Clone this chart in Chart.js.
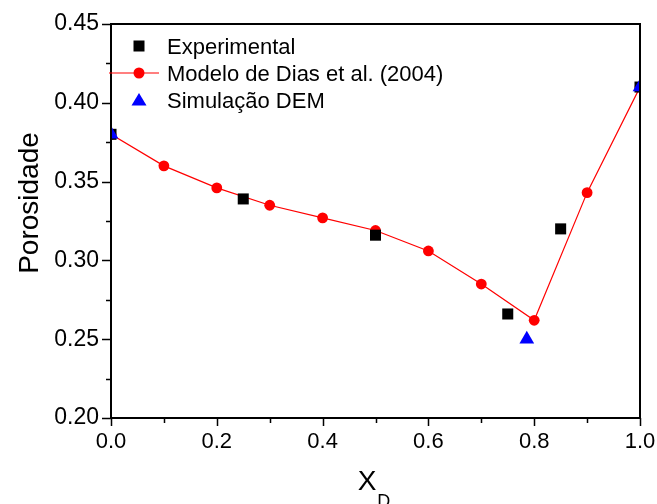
<!DOCTYPE html>
<html>
<head>
<meta charset="utf-8">
<script src="https://cdn.jsdelivr.net/npm/chart.js@4"></script>
<style>
html,body{margin:0;padding:0;background:#fff;}
canvas{display:block;}
</style>
</head>
<body>
<canvas id="c" width="657" height="504"></canvas>
<script>
// ---- data ----
const expX = [0.0, 0.25, 0.5, 0.75, 0.85, 1.0];
const expY = [0.380, 0.339, 0.316, 0.266, 0.320, 0.410];

const modelX = [0.0, 0.1, 0.2, 0.3, 0.4, 0.5, 0.6, 0.7, 0.8, 0.9, 1.0];
const modelY = [0.380, 0.360, 0.346, 0.335, 0.327, 0.319, 0.306, 0.285, 0.262, 0.343, 0.410];

const demX = [0.0, 0.786, 1.0];
const demY = [0.380, 0.250, 0.410];

const seriesNames = ['Experimental', 'Modelo de Dias et al. (2004)', 'Simulação DEM'];
const xTickLabels = ['0.0', '0.2', '0.4', '0.6', '0.8', '1.0'];
const yTickLabels = ['0.20', '0.25', '0.30', '0.35', '0.40', '0.45'];
const xTitle = 'X';
const xTitleSub = 'D';
const yTitle = 'Porosidade';

const FONT = '"Liberation Sans", Arial, Helvetica, sans-serif';
const pts = (xs, ys) => xs.map((x, i) => ({x: x, y: ys[i]}));
const near = (v, step) => Math.abs(v / step - Math.round(v / step)) < 1e-6;

const frame = {
  id: 'frame',
  afterDatasetsDraw(chart) {
    const {ctx, chartArea: a, scales} = chart;
    const xs = scales.x, ys = scales.y;
    ctx.save();
    ctx.strokeStyle = '#000';
    ctx.lineWidth = 1.5;
    // ticks
    ctx.beginPath();
    for (let i = 0; i <= 10; i++) {
      const v = i / 10;
      const px = Math.round(xs.getPixelForValue(v)) + 0.5;
      const len = (i % 2 === 0) ? 8 : 5;
      ctx.moveTo(px, a.bottom);
      ctx.lineTo(px, a.bottom + len);
    }
    for (let i = 0; i <= 10; i++) {
      const v = 0.20 + i * 0.025;
      const py = Math.round(ys.getPixelForValue(v)) + 0.5;
      const len = (i % 2 === 0) ? 9 : 5;
      ctx.moveTo(a.left, py);
      ctx.lineTo(a.left - len, py);
    }
    ctx.stroke();
    // box
    ctx.lineWidth = 2;
    ctx.strokeRect(a.left, a.top, a.right - a.left, a.bottom - a.top);
    ctx.restore();
  },
  afterDraw(chart) {
    const {ctx, chartArea: a} = chart;
    ctx.save();
    // axis titles
    ctx.fillStyle = '#000';
    ctx.font = '28px ' + FONT;
    ctx.textBaseline = 'alphabetic';
    ctx.textAlign = 'left';
    const cx = (a.left + a.right) / 2;
    const wX = ctx.measureText(xTitle).width;
    ctx.font = '18px ' + FONT;
    const wD = ctx.measureText(xTitleSub).width;
    const startX = cx - (wX + wD) / 2 - 2;
    ctx.font = '28px ' + FONT;
    ctx.fillText(xTitle, startX, 490);
    ctx.font = '18px ' + FONT;
    ctx.fillText(xTitleSub, startX + wX + 1, 507);

    ctx.save();
    ctx.translate(38, 203);
    ctx.rotate(-Math.PI / 2);
    ctx.font = '28px ' + FONT;
    ctx.textAlign = 'center';
    ctx.fillText(yTitle, 0, 0);
    ctx.restore();

    // legend
    const mx = 139, tx = 167;
    const rows = [46, 73, 100];
    ctx.font = '22px ' + FONT;
    ctx.textAlign = 'left';
    ctx.textBaseline = 'alphabetic';
    // row 1: black square
    ctx.fillStyle = '#000';
    ctx.fillRect(mx - 5.5, rows[0] - 5.5, 11, 11);
    ctx.fillText(seriesNames[0], tx, rows[0] + 8);
    // row 2: red line + circle
    ctx.strokeStyle = '#ff0000';
    ctx.lineWidth = 1.2;
    ctx.beginPath();
    ctx.moveTo(109, rows[1]);
    ctx.lineTo(159, rows[1]);
    ctx.stroke();
    ctx.fillStyle = '#ff0000';
    ctx.beginPath();
    ctx.arc(mx, rows[1], 5.5, 0, Math.PI * 2);
    ctx.fill();
    ctx.fillStyle = '#000';
    ctx.fillText(seriesNames[1], tx, rows[1] + 8);
    // row 3: blue triangle
    ctx.fillStyle = '#0000ff';
    ctx.beginPath();
    ctx.moveTo(mx, rows[2] - 7);
    ctx.lineTo(mx + 7.5, rows[2] + 5.5);
    ctx.lineTo(mx - 7.5, rows[2] + 5.5);
    ctx.closePath();
    ctx.fill();
    ctx.fillStyle = '#000';
    ctx.fillText(seriesNames[2], tx, rows[2] + 8);
    ctx.restore();
  }
};

new Chart(document.getElementById('c'), {
  type: 'scatter',
  data: {
    datasets: [
      {
        label: seriesNames[2],
        data: pts(demX, demY),
        pointStyle: 'triangle',
        pointRadius: 8.5,
        pointBackgroundColor: '#0000ff',
        pointBorderColor: '#0000ff',
        pointBorderWidth: 0,
        showLine: false,
        clip: 0,
        order: 0
      },
      {
        label: seriesNames[0],
        data: pts(expX, expY),
        pointStyle: 'rect',
        pointRadius: 7.8,
        pointBackgroundColor: '#000',
        pointBorderColor: '#000',
        pointBorderWidth: 0,
        showLine: false,
        clip: 0,
        order: 1
      },
      {
        label: seriesNames[1],
        data: pts(modelX, modelY),
        pointStyle: 'circle',
        pointRadius: 5.4,
        pointBackgroundColor: '#ff0000',
        pointBorderColor: '#ff0000',
        pointBorderWidth: 0,
        borderColor: '#ff0000',
        borderWidth: 1.2,
        showLine: true,
        tension: 0,
        clip: 0,
        order: 2
      }
    ]
  },
  options: {
    responsive: false,
    animation: false,
    events: [],
    layout: {padding: {top: 24, right: 17, left: 0, bottom: 0}},
    plugins: {legend: {display: false}, tooltip: {enabled: false}, title: {display: false}},
    scales: {
      x: {
        type: 'linear',
        min: 0, max: 1,
        afterFit(s) { s.height = 86; s.paddingLeft = 0; s.paddingRight = 0; },
        grid: {display: false, drawTicks: false},
        border: {display: false},
        ticks: {
          stepSize: 0.2,
          padding: 11,
          color: '#000',
          font: {family: FONT, size: 22},
          maxRotation: 0,
          autoSkip: false,
          callback: (v) => { const i = Math.round(v / 0.2); return near(v, 0.2) ? xTickLabels[i] : ''; }
        }
      },
      y: {
        type: 'linear',
        min: 0.20, max: 0.45,
        afterFit(s) { s.width = 111; s.paddingTop = 0; s.paddingBottom = 0; },
        grid: {display: false, drawTicks: false},
        border: {display: false},
        ticks: {
          stepSize: 0.05,
          padding: 12,
          color: '#000',
          font: {family: FONT, size: 23},
          autoSkip: false,
          callback: (v) => { const i = Math.round((v - 0.20) / 0.05); return near(v, 0.05) ? yTickLabels[i] : ''; }
        }
      }
    }
  },
  plugins: [frame]
});
</script>
</body>
</html>
